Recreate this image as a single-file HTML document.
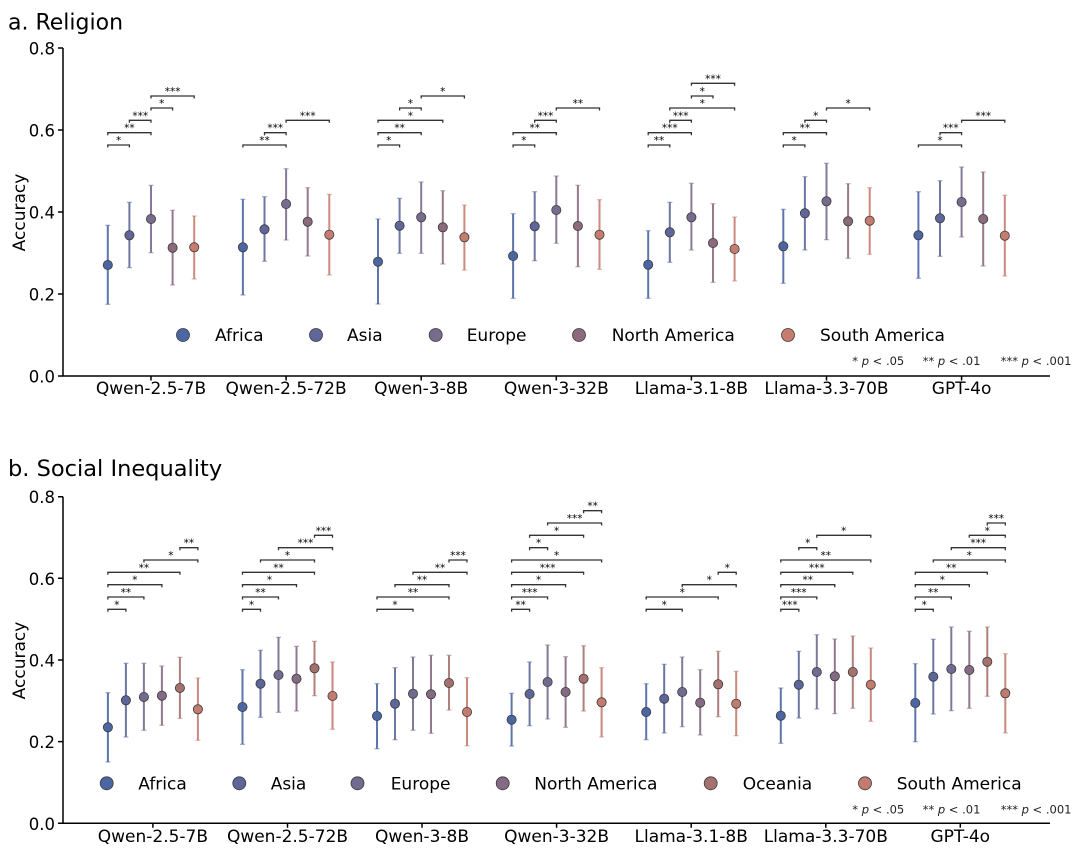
<!DOCTYPE html>
<html>
<head>
<meta charset="utf-8">
<style>
html,body{margin:0;padding:0;background:#fff;}
svg{display:block;}
text{font-family:"DejaVu Sans","Liberation Sans",sans-serif;fill:#000;}
.br{fill:none;stroke:#333;stroke-width:1.3;}
.st{font-size:10.5px;fill:#333;text-anchor:middle;}
.eb{fill:none;stroke-width:2;stroke-opacity:.9;}
.pt{stroke:#3a3a3a;stroke-width:.8;}
.yt{font-size:16.5px;text-anchor:end;}
.xt{font-size:17px;text-anchor:middle;}
.lg{font-size:17px;}
.pn{font-size:11.5px;fill:#222;}
.ax{fill:none;stroke:#000;stroke-width:1.5;}
</style>
</head>
<body>
<svg width="1080" height="854" viewBox="0 0 1080 854" xmlns="http://www.w3.org/2000/svg">
<defs>
<marker id="c0" markerUnits="userSpaceOnUse" markerWidth="8" markerHeight="4" refX="4" refY="2" overflow="visible"><path d="M1.5 2h5" stroke="#4c66a3" stroke-width="1.2" opacity=".55"/></marker>
<marker id="c1" markerUnits="userSpaceOnUse" markerWidth="8" markerHeight="4" refX="4" refY="2" overflow="visible"><path d="M1.5 2h5" stroke="#5f679a" stroke-width="1.2" opacity=".55"/></marker>
<marker id="c2" markerUnits="userSpaceOnUse" markerWidth="8" markerHeight="4" refX="4" refY="2" overflow="visible"><path d="M1.5 2h5" stroke="#786c8e" stroke-width="1.2" opacity=".55"/></marker>
<marker id="c3" markerUnits="userSpaceOnUse" markerWidth="8" markerHeight="4" refX="4" refY="2" overflow="visible"><path d="M1.5 2h5" stroke="#8c6a7d" stroke-width="1.2" opacity=".55"/></marker>
<marker id="c4" markerUnits="userSpaceOnUse" markerWidth="8" markerHeight="4" refX="4" refY="2" overflow="visible"><path d="M1.5 2h5" stroke="#c67d70" stroke-width="1.2" opacity=".55"/></marker>
<marker id="d1" markerUnits="userSpaceOnUse" markerWidth="8" markerHeight="4" refX="4" refY="2" overflow="visible"><path d="M1.5 2h5" stroke="#5d6699" stroke-width="1.2" opacity=".55"/></marker>
<marker id="d2" markerUnits="userSpaceOnUse" markerWidth="8" markerHeight="4" refX="4" refY="2" overflow="visible"><path d="M1.5 2h5" stroke="#736a8f" stroke-width="1.2" opacity=".55"/></marker>
<marker id="d3" markerUnits="userSpaceOnUse" markerWidth="8" markerHeight="4" refX="4" refY="2" overflow="visible"><path d="M1.5 2h5" stroke="#846a82" stroke-width="1.2" opacity=".55"/></marker>
<marker id="d4" markerUnits="userSpaceOnUse" markerWidth="8" markerHeight="4" refX="4" refY="2" overflow="visible"><path d="M1.5 2h5" stroke="#a5716f" stroke-width="1.2" opacity=".55"/></marker>
<marker id="d5" markerUnits="userSpaceOnUse" markerWidth="8" markerHeight="4" refX="4" refY="2" overflow="visible"><path d="M1.5 2h5" stroke="#c27b6e" stroke-width="1.2" opacity=".55"/></marker>
</defs>

<!-- ================= PANEL A ================= -->
<text x="8" y="29.3" font-size="22">a. Religion</text>
<text transform="translate(25,212.5) rotate(-90)" font-size="17" text-anchor="middle">Accuracy</text>

<path class="ax" d="M63 48V376.5M62.3 376H1050"/>
<path class="ax" stroke-width="1.2" d="M58 48H63M58 130H63M58 212H63M58 294H63M58 376H63M151 376v4.5M286.1 376v4.5M421.2 376v4.5M556.3 376v4.5M691.4 376v4.5M826.5 376v4.5M961.6 376v4.5"/>
<text class="yt" x="55" y="54.5">0.8</text>
<text class="yt" x="55" y="136.5">0.6</text>
<text class="yt" x="55" y="218.5">0.4</text>
<text class="yt" x="55" y="300.5">0.2</text>
<text class="yt" x="55" y="382.5">0.0</text>

<text class="xt" x="151" y="394">Qwen-2.5-7B</text>
<text class="xt" x="286.1" y="394">Qwen-2.5-72B</text>
<text class="xt" x="421.2" y="394">Qwen-3-8B</text>
<text class="xt" x="556.3" y="394">Qwen-3-32B</text>
<text class="xt" x="691.4" y="394">Llama-3.1-8B</text>
<text class="xt" x="826.5" y="394">Llama-3.3-70B</text>
<text class="xt" x="961.6" y="394">GPT-4o</text>

<!-- error bars A -->
<path class="eb" stroke="#4c66a3" marker-start="url(#c0)" marker-mid="url(#c0)" marker-end="url(#c0)" d="M107.8 225.3V304.3M242.9 199.3V295M378 219V304M513.1 213.7V298.3M648.2 230.7V298.3M783.3 209.3V283.3M918.4 191.7V278.3"/>
<path class="eb" stroke="#5f679a" marker-start="url(#c1)" marker-mid="url(#c1)" marker-end="url(#c1)" d="M129.4 202.3V267.7M264.5 196.7V261.3M399.6 198.3V253.3M534.7 191.7V260.7M669.8 202.3V262.3M804.9 176.7V250M940 180.7V256.3"/>
<path class="eb" stroke="#786c8e" marker-start="url(#c2)" marker-mid="url(#c2)" marker-end="url(#c2)" d="M151 185.3V252.7M286.1 168.7V240M421.2 182V253.3M556.3 176V243.3M691.4 183.3V250M826.5 163.3V239.7M961.6 167V237"/>
<path class="eb" stroke="#8c6a7d" marker-start="url(#c3)" marker-mid="url(#c3)" marker-end="url(#c3)" d="M172.6 210.3V285M307.7 187.7V256M442.8 190.7V264M577.9 185.3V266.7M713 203.7V282.3M848.1 183.7V258.3M983.2 172V266"/>
<path class="eb" stroke="#c67d70" marker-start="url(#c4)" marker-mid="url(#c4)" marker-end="url(#c4)" d="M194.2 216V279M329.3 194.3V275M464.4 205V270M599.5 199.7V269.3M734.6 217V281M869.7 187.7V254.3M1004.8 195.3V276"/>

<g class="pt" fill="#4c66a3">
<circle cx="107.8" cy="265" r="4.6"/><circle cx="242.9" cy="247.3" r="4.6"/><circle cx="378" cy="261.7" r="4.6"/><circle cx="513.1" cy="256" r="4.6"/><circle cx="648.2" cy="264.7" r="4.6"/><circle cx="783.3" cy="246.3" r="4.6"/><circle cx="918.4" cy="235.3" r="4.6"/>
</g>
<g class="pt" fill="#5f679a">
<circle cx="129.4" cy="235.3" r="4.6"/><circle cx="264.5" cy="229.3" r="4.6"/><circle cx="399.6" cy="225.7" r="4.6"/><circle cx="534.7" cy="226.3" r="4.6"/><circle cx="669.8" cy="232.3" r="4.6"/><circle cx="804.9" cy="213.3" r="4.6"/><circle cx="940" cy="218.3" r="4.6"/>
</g>
<g class="pt" fill="#786c8e">
<circle cx="151" cy="219" r="4.6"/><circle cx="286.1" cy="204" r="4.6"/><circle cx="421.2" cy="217.3" r="4.6"/><circle cx="556.3" cy="210" r="4.6"/><circle cx="691.4" cy="217.3" r="4.6"/><circle cx="826.5" cy="201.3" r="4.6"/><circle cx="961.6" cy="202" r="4.6"/>
</g>
<g class="pt" fill="#8c6a7d">
<circle cx="172.6" cy="247.7" r="4.6"/><circle cx="307.7" cy="221.7" r="4.6"/><circle cx="442.8" cy="227.3" r="4.6"/><circle cx="577.9" cy="226" r="4.6"/><circle cx="713" cy="243" r="4.6"/><circle cx="848.1" cy="221.3" r="4.6"/><circle cx="983.2" cy="219" r="4.6"/>
</g>
<g class="pt" fill="#c67d70">
<circle cx="194.2" cy="247.3" r="4.6"/><circle cx="329.3" cy="234.7" r="4.6"/><circle cx="464.4" cy="237.3" r="4.6"/><circle cx="599.5" cy="234.7" r="4.6"/><circle cx="734.6" cy="249" r="4.6"/><circle cx="869.7" cy="220.7" r="4.6"/><circle cx="1004.8" cy="235.7" r="4.6"/>
</g>

<!-- brackets A -->
<path class="br" d="M107.8 147.5V145H129.4V147.5M107.8 135.2V132.7H151V135.2M129.4 122.8V120.3H151V122.8M151 110.5V108H172.6V110.5M151 98.5V96H194.2V98.5
M242.9 147.5V145H286.1V147.5M264.5 135.2V132.7H286.1V135.2M286.1 122.8V120.3H329.3V122.8
M378 147.5V145H399.6V147.5M378 135.2V132.7H421.2V135.2M378 122.8V120.3H442.8V122.8M399.6 110.5V108H421.2V110.5M421.2 98.5V96H464.4V98.5
M513.1 147.5V145H534.7V147.5M513.1 135.2V132.7H556.3V135.2M534.7 122.8V120.3H556.3V122.8M556.3 110.5V108H599.5V110.5
M648.2 147.5V145H669.8V147.5M648.2 135.2V132.7H691.4V135.2M669.8 122.8V120.3H691.4V122.8M669.8 110.5V108H734.6V110.5M691.4 98.5V96H713V98.5M691.4 85.8V83.3H734.6V85.8
M783.3 147.5V145H804.9V147.5M783.3 135.2V132.7H826.5V135.2M804.9 122.8V120.3H826.5V122.8M826.5 110.5V108H869.7V110.5
M918.4 147.5V145H961.6V147.5M940 135.2V132.7H961.6V135.2M961.6 122.8V120.3H1004.8V122.8"/>
<g class="st">
<text x="118.6" y="144">*</text><text x="129.4" y="131.7">**</text><text x="140.2" y="119.3">***</text><text x="161.8" y="107">*</text><text x="172.6" y="95">***</text>
<text x="264.5" y="144">**</text><text x="275.3" y="131.7">***</text><text x="307.7" y="119.3">***</text>
<text x="388.8" y="144">*</text><text x="399.6" y="131.7">**</text><text x="410.4" y="119.3">*</text><text x="410.4" y="107">*</text><text x="442.8" y="95">*</text>
<text x="523.9" y="144">*</text><text x="534.7" y="131.7">**</text><text x="545.5" y="119.3">***</text><text x="577.9" y="107">**</text>
<text x="659" y="144">**</text><text x="669.8" y="131.7">***</text><text x="680.6" y="119.3">***</text><text x="702.2" y="107">*</text><text x="702.2" y="95">*</text><text x="713" y="82.3">***</text>
<text x="794.1" y="144">*</text><text x="804.9" y="131.7">**</text><text x="815.7" y="119.3">*</text><text x="848.1" y="107">*</text>
<text x="940" y="144">*</text><text x="950.8" y="131.7">***</text><text x="983.2" y="119.3">***</text>
</g>

<!-- legend A -->
<g class="pt" stroke-width=".9">
<circle cx="183" cy="335" r="6.5" fill="#4c66a3"/>
<circle cx="316" cy="335" r="6.5" fill="#5f679a"/>
<circle cx="435.7" cy="335" r="6.5" fill="#786c8e"/>
<circle cx="579" cy="335" r="6.5" fill="#8c6a7d"/>
<circle cx="788" cy="335" r="6.5" fill="#c67d70"/>
</g>
<text class="lg" x="215" y="341">Africa</text>
<text class="lg" x="347" y="341">Asia</text>
<text class="lg" x="466.7" y="341">Europe</text>
<text class="lg" x="611.7" y="341">North America</text>
<text class="lg" x="820" y="341">South America</text>

<text class="pn" x="852.3" y="365">* <tspan font-style="italic">p</tspan> &lt; .05</text>
<text class="pn" x="922.7" y="365">** <tspan font-style="italic">p</tspan> &lt; .01</text>
<text class="pn" x="1000.7" y="365">*** <tspan font-style="italic">p</tspan> &lt; .001</text>

<!-- ================= PANEL B ================= -->
<text x="8" y="476" font-size="22.5">b. Social Inequality</text>
<text transform="translate(25,660.5) rotate(-90)" font-size="17" text-anchor="middle">Accuracy</text>

<path class="ax" d="M63 496.7V823.8M62.3 823.3H1050"/>
<path class="ax" stroke-width="1.2" d="M58 496.7H63M58 578.3H63M58 660H63M58 741.6H63M58 823.3H63M152.9 823.3v4.5M287.5 823.3v4.5M422 823.3v4.5M556.6 823.3v4.5M691.2 823.3v4.5M825.8 823.3v4.5M960.3 823.3v4.5"/>
<text class="yt" x="55" y="503.2">0.8</text>
<text class="yt" x="55" y="584.8">0.6</text>
<text class="yt" x="55" y="666.5">0.4</text>
<text class="yt" x="55" y="748.1">0.2</text>
<text class="yt" x="55" y="829.8">0.0</text>

<text class="xt" x="152.9" y="842">Qwen-2.5-7B</text>
<text class="xt" x="287.5" y="842">Qwen-2.5-72B</text>
<text class="xt" x="422" y="842">Qwen-3-8B</text>
<text class="xt" x="556.6" y="842">Qwen-3-32B</text>
<text class="xt" x="691.2" y="842">Llama-3.1-8B</text>
<text class="xt" x="825.8" y="842">Llama-3.3-70B</text>
<text class="xt" x="960.3" y="842">GPT-4o</text>

<!-- error bars B -->
<path class="eb" stroke="#4c66a3" marker-start="url(#c0)" marker-mid="url(#c0)" marker-end="url(#c0)" d="M107.9 692.7V762M242.5 669.7V744.3M377 683.7V748.7M511.6 693.3V746M646.2 683.7V739.7M780.8 688V743.3M915.3 663.7V741.7"/>
<path class="eb" stroke="#5d6699" marker-start="url(#d1)" marker-mid="url(#d1)" marker-end="url(#d1)" d="M125.9 663.3V737M260.5 650.3V717.3M395 667.7V739.7M529.6 662V725.7M664.2 664.3V733M798.8 651.3V718M933.3 639.3V714"/>
<path class="eb" stroke="#736a8f" marker-start="url(#d2)" marker-mid="url(#d2)" marker-end="url(#d2)" d="M143.9 663.3V730.3M278.5 637.3V712.3M413 657V730.3M547.6 645V719M682.2 657V726.7M816.8 634.7V709M951.3 627V710.7"/>
<path class="eb" stroke="#846a82" marker-start="url(#d3)" marker-mid="url(#d3)" marker-end="url(#d3)" d="M161.9 666V725.3M296.5 646.3V711M431 655.3V733.3M565.6 656.7V727.3M700.2 669.7V735M834.8 639V713.7M969.3 631.3V708.3"/>
<path class="eb" stroke="#a5716f" marker-start="url(#d4)" marker-mid="url(#d4)" marker-end="url(#d4)" d="M179.9 657.3V718.3M314.5 641.3V695.7M449 655.3V710M583.6 645.7V711M718.2 651.3V716.7M852.8 636V708.3M987.3 627V696.3"/>
<path class="eb" stroke="#c27b6e" marker-start="url(#d5)" marker-mid="url(#d5)" marker-end="url(#d5)" d="M197.9 678V740.3M332.5 662V729.3M467 677.7V745.7M601.6 667.7V737M736.2 671.3V735.7M870.8 648V721.3M1005.3 653.7V733"/>

<g class="pt" fill="#4c66a3">
<circle cx="107.9" cy="727.3" r="4.6"/><circle cx="242.5" cy="707" r="4.6"/><circle cx="377" cy="716" r="4.6"/><circle cx="511.6" cy="719.7" r="4.6"/><circle cx="646.2" cy="712" r="4.6"/><circle cx="780.8" cy="715.7" r="4.6"/><circle cx="915.3" cy="703" r="4.6"/>
</g>
<g class="pt" fill="#5d6699">
<circle cx="125.9" cy="700.3" r="4.6"/><circle cx="260.5" cy="683.7" r="4.6"/><circle cx="395" cy="703.7" r="4.6"/><circle cx="529.6" cy="694" r="4.6"/><circle cx="664.2" cy="698.7" r="4.6"/><circle cx="798.8" cy="684.7" r="4.6"/><circle cx="933.3" cy="676.7" r="4.6"/>
</g>
<g class="pt" fill="#736a8f">
<circle cx="143.9" cy="697" r="4.6"/><circle cx="278.5" cy="675" r="4.6"/><circle cx="413" cy="693.7" r="4.6"/><circle cx="547.6" cy="682" r="4.6"/><circle cx="682.2" cy="692" r="4.6"/><circle cx="816.8" cy="672" r="4.6"/><circle cx="951.3" cy="669" r="4.6"/>
</g>
<g class="pt" fill="#846a82">
<circle cx="161.9" cy="695.7" r="4.6"/><circle cx="296.5" cy="678.7" r="4.6"/><circle cx="431" cy="694.3" r="4.6"/><circle cx="565.6" cy="692" r="4.6"/><circle cx="700.2" cy="702.7" r="4.6"/><circle cx="834.8" cy="676.3" r="4.6"/><circle cx="969.3" cy="670" r="4.6"/>
</g>
<g class="pt" fill="#a5716f">
<circle cx="179.9" cy="688" r="4.6"/><circle cx="314.5" cy="668.3" r="4.6"/><circle cx="449" cy="683" r="4.6"/><circle cx="583.6" cy="678.7" r="4.6"/><circle cx="718.2" cy="684.3" r="4.6"/><circle cx="852.8" cy="672" r="4.6"/><circle cx="987.3" cy="661.7" r="4.6"/>
</g>
<g class="pt" fill="#c27b6e">
<circle cx="197.9" cy="709.3" r="4.6"/><circle cx="332.5" cy="696" r="4.6"/><circle cx="467" cy="712" r="4.6"/><circle cx="601.6" cy="702.3" r="4.6"/><circle cx="736.2" cy="703.7" r="4.6"/><circle cx="870.8" cy="684.7" r="4.6"/><circle cx="1005.3" cy="693.3" r="4.6"/>
</g>

<!-- brackets B -->
<path class="br" d="M107.9 611.8V609.3H125.9V611.8M107.9 599.5V597H143.9V599.5M107.9 587.2V584.7H161.9V587.2M107.9 574.8V572.3H179.9V574.8M143.9 562.5V560H197.9V562.5M179.9 550.2V547.7H197.9V550.2
M242.5 611.8V609.3H260.5V611.8M242.5 599.5V597H278.5V599.5M242.5 587.2V584.7H296.5V587.2M242.5 574.8V572.3H314.5V574.8M260.5 562.5V560H314.5V562.5M278.5 550.2V547.7H332.5V550.2M314.5 537.8V535.3H332.5V537.8
M377 611.8V609.3H413V611.8M377 599.5V597H449V599.5M395 587.2V584.7H449V587.2M413 574.8V572.3H467V574.8M449 562.5V560H467V562.5
M511.6 611.8V609.3H529.6V611.8M511.6 599.5V597H547.6V599.5M511.6 587.2V584.7H565.6V587.2M511.6 574.8V572.3H583.6V574.8M511.6 562.5V560H601.6V562.5M529.6 550.2V547.7H547.6V550.2M529.6 537.8V535.3H583.6V537.8M547.6 525.5V523H601.6V525.5M583.6 513.2V510.7H601.6V513.2
M646.2 611.8V609.3H682.2V611.8M646.2 599.5V597H718.2V599.5M682.2 587.2V584.7H736.2V587.2M718.2 574.8V572.3H736.2V574.8
M780.8 611.8V609.3H798.8V611.8M780.8 599.5V597H816.8V599.5M780.8 587.2V584.7H834.8V587.2M780.8 574.8V572.3H852.8V574.8M780.8 562.5V560H870.8V562.5M798.8 550.2V547.7H816.8V550.2M816.8 537.8V535.3H870.8V537.8
M915.3 611.8V609.3H933.3V611.8M915.3 599.5V597H951.3V599.5M915.3 587.2V584.7H969.3V587.2M915.3 574.8V572.3H987.3V574.8M933.3 562.5V560H1005.3V562.5M951.3 550.2V547.7H1005.3V550.2M969.3 537.8V535.3H1005.3V537.8M987.3 525.5V523H1005.3V525.5"/>
<g class="st">
<text x="116.9" y="608.3">*</text><text x="125.9" y="596">**</text><text x="134.9" y="583.7">*</text><text x="143.9" y="571.3">**</text><text x="170.9" y="559">*</text><text x="188.9" y="546.7">**</text>
<text x="251.5" y="608.3">*</text><text x="260.5" y="596">**</text><text x="269.5" y="583.7">*</text><text x="278.5" y="571.3">**</text><text x="287.5" y="559">*</text><text x="305.5" y="546.7">***</text><text x="323.5" y="534.3">***</text>
<text x="395" y="608.3">*</text><text x="413" y="596">**</text><text x="422" y="583.7">**</text><text x="440" y="571.3">**</text><text x="458" y="559">***</text>
<text x="520.6" y="608.3">**</text><text x="529.6" y="596">***</text><text x="538.6" y="583.7">*</text><text x="547.6" y="571.3">***</text><text x="556.6" y="559">*</text><text x="538.6" y="546.7">*</text><text x="556.6" y="534.3">*</text><text x="574.6" y="522">***</text><text x="592.6" y="509.7">**</text>
<text x="664.2" y="608.3">*</text><text x="682.2" y="596">*</text><text x="709.2" y="583.7">*</text><text x="727.2" y="571.3">*</text>
<text x="789.8" y="608.3">***</text><text x="798.8" y="596">***</text><text x="807.8" y="583.7">**</text><text x="816.8" y="571.3">***</text><text x="825.8" y="559">**</text><text x="807.8" y="546.7">*</text><text x="843.8" y="534.3">*</text>
<text x="924.3" y="608.3">*</text><text x="933.3" y="596">**</text><text x="942.3" y="583.7">*</text><text x="951.3" y="571.3">**</text><text x="969.3" y="559">*</text><text x="978.3" y="546.7">***</text><text x="987.3" y="534.3">*</text><text x="996.3" y="522">***</text>
</g>

<!-- legend B -->
<g class="pt" stroke-width=".9">
<circle cx="106.7" cy="783.3" r="6.5" fill="#4c66a3"/>
<circle cx="239.3" cy="783.3" r="6.5" fill="#5d6699"/>
<circle cx="357.5" cy="783.3" r="6.5" fill="#736a8f"/>
<circle cx="502.7" cy="783.3" r="6.5" fill="#846a82"/>
<circle cx="710.7" cy="783.3" r="6.5" fill="#a5716f"/>
<circle cx="865" cy="783.3" r="6.5" fill="#c27b6e"/>
</g>
<text class="lg" x="138.3" y="789.3">Africa</text>
<text class="lg" x="270.7" y="789.3">Asia</text>
<text class="lg" x="390.7" y="789.3">Europe</text>
<text class="lg" x="534.3" y="789.3">North America</text>
<text class="lg" x="742.7" y="789.3">Oceania</text>
<text class="lg" x="896.7" y="789.3">South America</text>

<text class="pn" x="852.3" y="813.3">* <tspan font-style="italic">p</tspan> &lt; .05</text>
<text class="pn" x="922.7" y="813.3">** <tspan font-style="italic">p</tspan> &lt; .01</text>
<text class="pn" x="1000.7" y="813.3">*** <tspan font-style="italic">p</tspan> &lt; .001</text>
</svg>
</body>
</html>
